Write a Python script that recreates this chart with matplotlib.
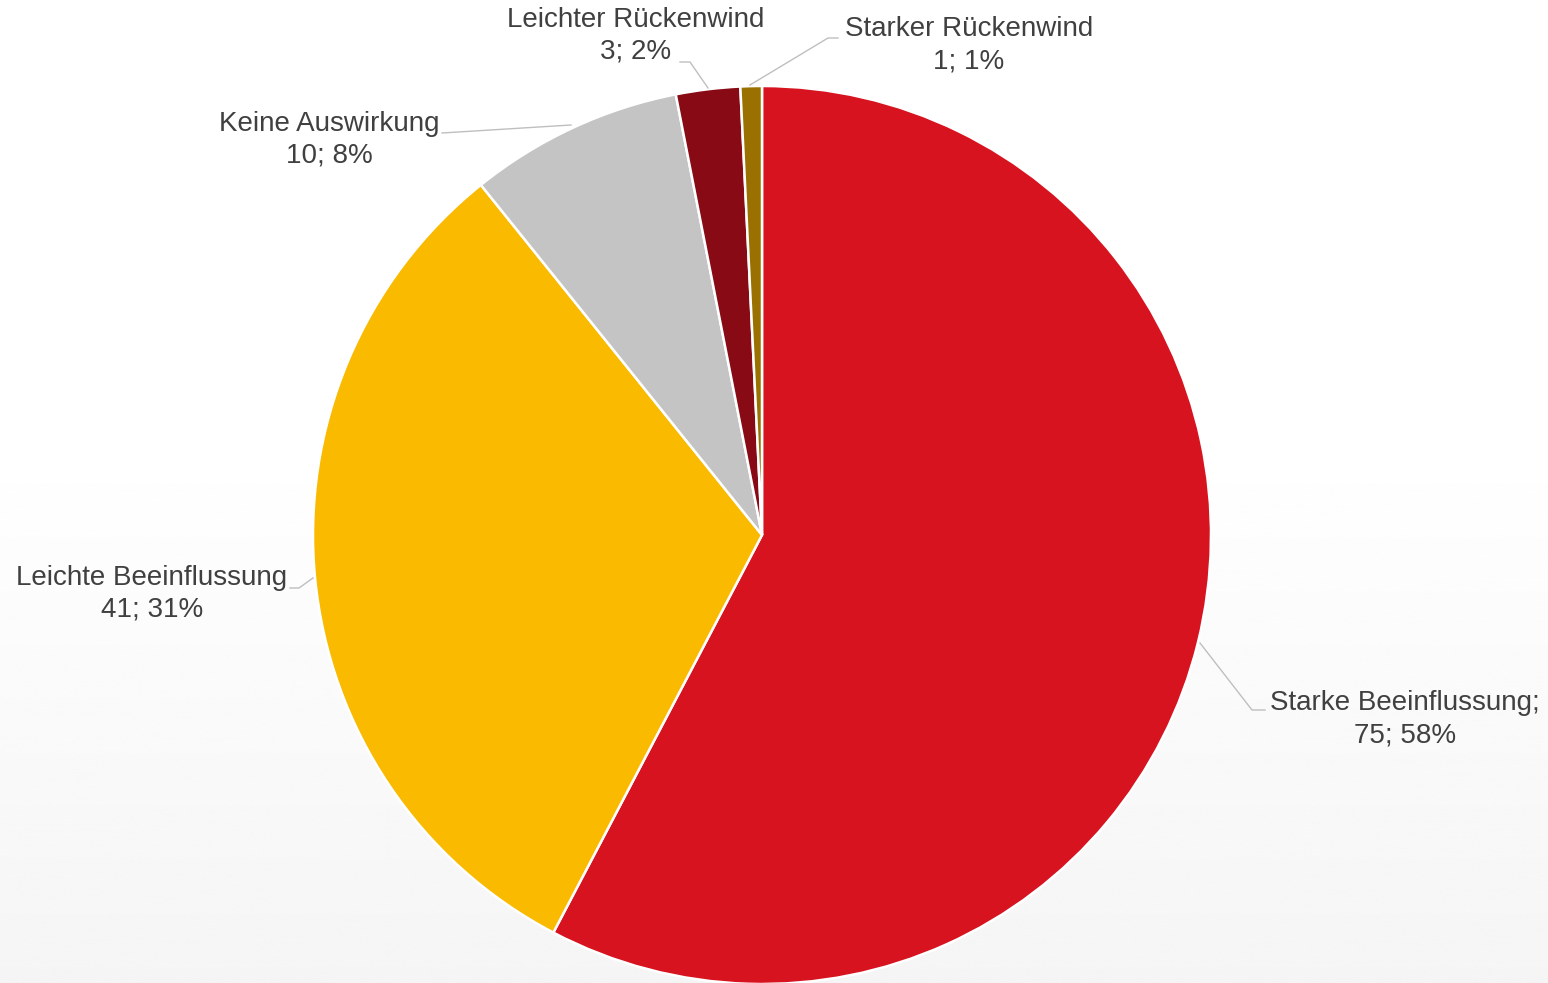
import numpy as np
import matplotlib.pyplot as plt

categories = ['Starke Beeinflussung', 'Leichte Beeinflussung', 'Keine Auswirkung',
              'Leichter Rückenwind', 'Starker Rückenwind']
counts = [75, 41, 10, 3, 1]
percents = [58, 31, 8, 2, 1]
name_sep = [';\n', '\n', '\n', '\n', '\n']
colors = ['#D7131F', '#FABA00', '#C4C4C4', '#870A14', '#9A7000']

W, H = 1548, 983
CX, CY, R = 762, H - 535, 449

# label centres (px, y up) and leader paths, layout only
label_pos = [(1405, H - 719), (152, H - 594), (329, H - 140), (636, H - 36), (969, H - 45)]
leaders = [
    [(1200, H - 643), (1252, H - 710), (1265, H - 710)],
    [(313, H - 578), (299, H - 588), (290, H - 588)],
    [(571, H - 125), (442, H - 133)],
    [(708, H - 88), (690, H - 62), (680, H - 62)],
    [(750, H - 85), (828, H - 38), (838, H - 38)],
]

plt.rcParams['font.family'] = ['Liberation Sans', 'DejaVu Sans']

fig = plt.figure(figsize=(W / 100, H / 100), dpi=100)
ax = fig.add_axes([0, 0, 1, 1])
ax.set_xlim(0, W)
ax.set_ylim(0, H)
ax.axis('off')

# background: white on top, fading to light grey towards the bottom
t = np.clip((np.linspace(0, H, 400) - 430) / (H - 430), 0, 1)
shade = 1.0 - 0.04 * t
grad = np.repeat(shade[:, None], 2, axis=1)
ax.imshow(grad, cmap='gray', vmin=0, vmax=1, extent=[0, W, 0, H],
          origin='upper', aspect='auto', zorder=0)

ax.pie(counts, colors=colors, startangle=90, counterclock=False,
       center=(CX, CY), radius=R, frame=True,
       wedgeprops=dict(edgecolor='white', linewidth=1.8, zorder=2))
ax.set_xlim(0, W)
ax.set_ylim(0, H)
ax.axis('off')

for i, name in enumerate(categories):
    txt = f"{name}{name_sep[i]}{counts[i]}; {percents[i]}%"
    ax.text(label_pos[i][0], label_pos[i][1], txt, ha='center', va='center',
            fontsize=20, color='#404040', linespacing=1.3, zorder=4)
    xs, ys = zip(*leaders[i])
    ax.plot(xs, ys, color='#BFBFBF', linewidth=1.0, zorder=3)

fig.savefig('out.png', dpi=100)
